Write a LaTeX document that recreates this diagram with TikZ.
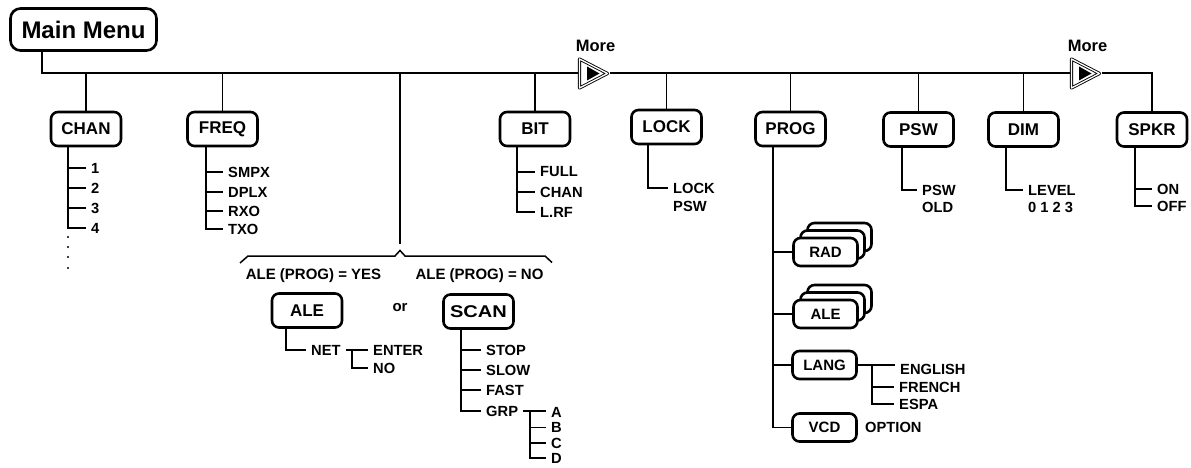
\documentclass[tikz,border=0pt]{standalone}
\usepackage{graphicx}
\usepackage{fontspec}
\setmainfont{Liberation Sans}
\begin{document}
\begin{tikzpicture}[x=1pt,y=-1pt,
  box/.style={draw, line width=2.6pt, rounded corners=7pt, fill=white, inner sep=0pt,
    minimum width=70pt, minimum height=34pt, font=\fontsize{17}{20}\selectfont\bfseries},
  sbox/.style={box, minimum width=64pt, minimum height=28pt, font=\fontsize{15}{18}\selectfont\bfseries},
  ln/.style={line width=1.5pt},
  lbl/.style={anchor=west, inner xsep=5pt, inner ysep=0pt, font=\fontsize{14.7}{16}\selectfont\bfseries},
  lbltwo/.style={anchor=north west, inner xsep=5pt, inner ysep=0pt, font=\fontsize{14.7}{16}\selectfont\bfseries},
  captxt/.style={inner sep=0pt, font=\fontsize{15}{17}\selectfont\bfseries},
  moretri/.style={line width=0.9pt, double=white, double distance=1.3pt, line join=round, fill=white}
]
\useasboundingbox (0,0) rectangle (1191,468);

% main menu and top-level boxes
\node[box, minimum width=146pt, minimum height=42pt, rounded corners=10pt,
  font=\fontsize{24}{28}\selectfont\bfseries] (mm) at (83.5,29.5) {Main Menu};
\node[box] (chan) at (86,129) {CHAN};
\node[box] (freq) at (222.5,129) {FREQ};
\node[box] (bit) at (535,129) {BIT};
\node[box] (lock) at (666.5,127) {LOCK};
\node[box] (prog) at (790.5,129) {PROG};
\node[box] (psw) at (918.5,129.5) {PSW};
\node[box] (dim) at (1023.5,129.5) {DIM};
\node[box] (spkr) at (1152,129.5) {SPKR};

% bus
\coordinate (b0) at (42,73);
\coordinate (m1w) at (578,73);
\coordinate (m1e) at (610,73);
\coordinate (m2w) at (1070,73);
\coordinate (m2e) at (1102,73);
\draw[ln] (mm.south -| b0) -- (b0) -- (m1w);
\draw[ln] (m1e) -- (m2w);
\draw[ln] (m2e) -| (spkr.north);
\foreach \n in {chan,freq,bit,lock,prog,psw,dim}
  \draw[ln] (\n.north |- b0) -- (\n.north);

% More markers
\draw[moretri] (579.5,59) -- (607.5,73.5) -- (579.5,88) -- cycle;
\fill (587,66.5) -- (599.5,73.5) -- (587,80.5) -- cycle;
\draw[moretri] (1071.5,59) -- (1099.5,73.5) -- (1071.5,88) -- cycle;
\fill (1079,66.5) -- (1091.5,73.5) -- (1079,80.5) -- cycle;
\node[font=\fontsize{16.5}{18}\selectfont\bfseries, inner sep=0pt] (more1) at (595.5,46) {More};
\node[font=\fontsize{16.5}{18}\selectfont\bfseries, inner sep=0pt] (more2) at (1087.5,46) {More};

% CHAN children
\node[lbl] (c1) at (86,168) {1};
\node[lbl] (c2) at (86,188) {2};
\node[lbl] (c3) at (86,208) {3};
\node[lbl] (c4) at (86,228) {4};
\draw[ln] (68,0 |- chan.south) |- (c4.west);
\foreach \c in {c1,c2,c3} \draw[ln] (68,0 |- \c.west) -- (\c.west);
\foreach \y in {237,247,257,268} \fill (68,\y) circle[radius=1.1pt];

% FREQ children
\node[lbl] (f1) at (223,172) {SMPX};
\node[lbl] (f2) at (223,192) {DPLX};
\node[lbl] (f3) at (223,211) {RXO};
\node[lbl] (f4) at (223,229) {TXO};
\draw[ln] (206,0 |- freq.south) |- (f4.west);
\foreach \c in {f1,f2,f3} \draw[ln] (206,0 |- \c.west) -- (\c.west);

% BIT children
\node[lbl] (bt1) at (535,172) {FULL};
\node[lbl] (bt2) at (535,192) {CHAN};
\node[lbl] (bt3) at (535,212) {L.RF};
\draw[ln] (517,0 |- bit.south) |- (bt3.west);
\foreach \c in {bt1,bt2} \draw[ln] (517,0 |- \c.west) -- (\c.west);

% LOCK child
\node[lbl] (lk1) at (668,188) {LOCK};
\node[lbltwo] (lk2) at ([yshift=-8pt]lk1.south west) {PSW};
\draw[ln] (648,0 |- lock.south) |- (lk1.west);

% PSW child
\node[lbl] (pw1) at (917,190) {PSW};
\node[lbltwo] (pw2) at ([yshift=-7pt]pw1.south west) {OLD};
\draw[ln] (902,0 |- psw.south) |- (pw1.west);

% DIM child
\node[lbl] (dm1) at (1023,190) {LEVEL};
\node[lbltwo] (dm2) at ([yshift=-7pt]dm1.south west) {0 1 2 3};
\draw[ln] (1006,0 |- dim.south) |- (dm1.west);

% SPKR children
\node[lbl] (sp1) at (1152,189) {ON};
\node[lbl] (sp2) at (1152,206) {OFF};
\draw[ln] (1135,0 |- spkr.south) |- (sp2.west);
\draw[ln] (1135,0 |- sp1.west) -- (sp1.west);

% middle branch with brace
\coordinate (btip) at (400,244);
\draw[ln] (btip |- b0) -- (btip);
\draw[ln, line join=miter] (240,263) -- (248,256) -- (395,256) -- (400,250.5) -- (405,256) -- (545,256) -- (552,262.5);
\node[captxt] (cy) at (313.5,276) {ALE (PROG) = YES};
\node[captxt] (cn) at (479.5,276) {ALE (PROG) = NO};
\node[captxt] (orr) at (400,308) {or};
\node[box] (ale) at (307,310.5) {ALE};
\node[box] (scan) at (478.5,311.5) {\scalebox{1.18}[1]{SCAN}};

% ALE children
\node[lbl] (net) at (306,350) {NET};
\node[lbl] (ent) at (368,350) {ENTER};
\node[lbl] (no) at (368,368) {NO};
\draw[ln] (286,0 |- ale.south) |- (net.west);
\draw[ln] (net.east) -- (ent.west);
\draw[ln] (352,0 |- ent.west) |- (no.west);

% SCAN children
\node[lbl] (s1) at (481,350) {STOP};
\node[lbl] (s2) at (481,370) {SLOW};
\node[lbl] (s3) at (481,390) {FAST};
\node[lbl] (s4) at (481,411) {GRP};
\draw[ln] (461,0 |- scan.south) |- (s4.west);
\foreach \c in {s1,s2,s3} \draw[ln] (461,0 |- \c.west) -- (\c.west);
\node[lbl] (ga) at (546,412) {A};
\node[lbl] (gb) at (546,427.5) {B};
\node[lbl] (gc) at (546,443) {C};
\node[lbl] (gd) at (546,458) {D};
\draw[ln] (s4.east) -- (s4.east -| ga.west);
\draw[ln] (530,0 |- s4.east) |- (gd.west);
\foreach \c in {gb,gc} \draw[ln] (530,0 |- \c.west) -- (\c.west);

% PROG children (stacked boxes)
\node[sbox] (radb2) at (839.5,237) {};
\node[sbox] (radb1) at (832.5,244.5) {};
\node[sbox] (aleb2) at (839.5,299) {};
\node[sbox] (aleb1) at (832.5,306.5) {};
\node[sbox] (rad) at (825.5,252) {RAD};
\node[sbox] (ale2) at (825.5,314) {ALE};
\node[sbox] (lang) at (824.5,365) {LANG};
\node[sbox] (vcd) at (824.5,427.5) {VCD};
\node[lbl, inner xsep=0pt] (opt) at (865,427) {OPTION};
\draw[ln] (773,0 |- prog.south) |- (vcd.west);
\foreach \c in {rad,ale2,lang} \draw[ln] (773,0 |- \c.west) -- (\c.west);

% LANG children
\node[lbl] (l1) at (895,369) {ENGLISH};
\node[lbl] (l2) at (894,387) {FRENCH};
\node[lbl] (l3) at (894,404) {ESPA};
\draw[ln] (lang.east) -- (lang.east -| l1.west);
\draw[ln] (872,0 |- lang.east) |- (l3.west);
\draw[ln] (872,0 |- l2.west) -- (l2.west);
\end{tikzpicture}
\end{document}
